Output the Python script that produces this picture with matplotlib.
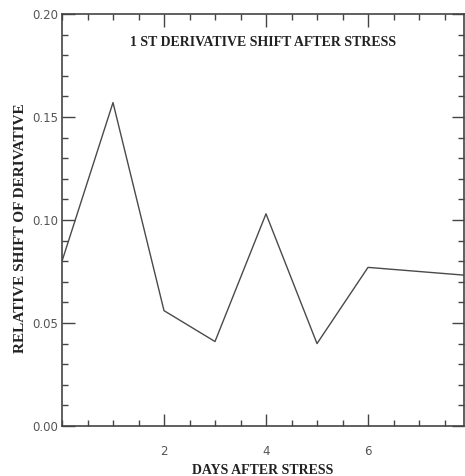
import matplotlib
matplotlib.use("Agg")
import matplotlib.pyplot as plt
from matplotlib.ticker import MultipleLocator, FixedLocator

days = [0, 1, 2, 3, 4, 5, 6, 7, 8]
shift = [0.080, 0.157, 0.056, 0.041, 0.103, 0.040, 0.077, 0.075, 0.073]
xticks = [2, 4, 6]
yticks = [0.00, 0.05, 0.10, 0.15, 0.20]

fig = plt.figure(figsize=(4.65, 4.76), dpi=100)
ax = fig.add_axes([62/465, 50/476, 402/465, 412/476])
ax.plot(days, shift, color="#4a4a4a", lw=1.0, clip_on=True)
ax.set_xlim(0, 402/51)
ax.set_ylim(0, 0.20)

ax.xaxis.set_major_locator(FixedLocator(xticks))
ax.xaxis.set_minor_locator(MultipleLocator(0.5))
ax.yaxis.set_major_locator(FixedLocator(yticks))
ax.yaxis.set_minor_locator(MultipleLocator(0.01))
ax.set_yticklabels([f"{v:.2f}" for v in yticks])
ax.set_xticklabels([str(v) for v in xticks])

ax.tick_params(which="both", direction="in", top=True, right=True, color="#444444", width=1.0)
ax.tick_params(which="major", length=9, labelsize=8.5, labelcolor="#555555")
ax.tick_params(axis="x", which="major", pad=14)
ax.tick_params(axis="y", which="major", pad=3)
ax.tick_params(which="minor", length=4.5)
for s in ax.spines.values():
    s.set_color("#444444")
    s.set_linewidth(1.2)

serif = ["Liberation Serif", "DejaVu Serif"]
ax.text(0.5, 0.93, "1 ST DERIVATIVE SHIFT AFTER STRESS", transform=ax.transAxes,
        ha="center", va="center", family=serif, fontweight="bold", fontsize=10, color="#222222")
ax.set_xlabel("DAYS AFTER STRESS", family=serif, fontweight="bold", fontsize=10,
              color="#222222")
ax.xaxis.set_label_coords(0.5, -44/412, transform=ax.transAxes)
ax.xaxis.label.set_va("center")
ax.set_ylabel("RELATIVE SHIFT OF DERIVATIVE", family=serif, fontweight="bold", fontsize=11,
              color="#222222")
ax.yaxis.set_label_coords(-41/402, (426-228)/412, transform=ax.transAxes)
ax.yaxis.label.set_va("center")

fig.savefig("out.png", dpi=100)
